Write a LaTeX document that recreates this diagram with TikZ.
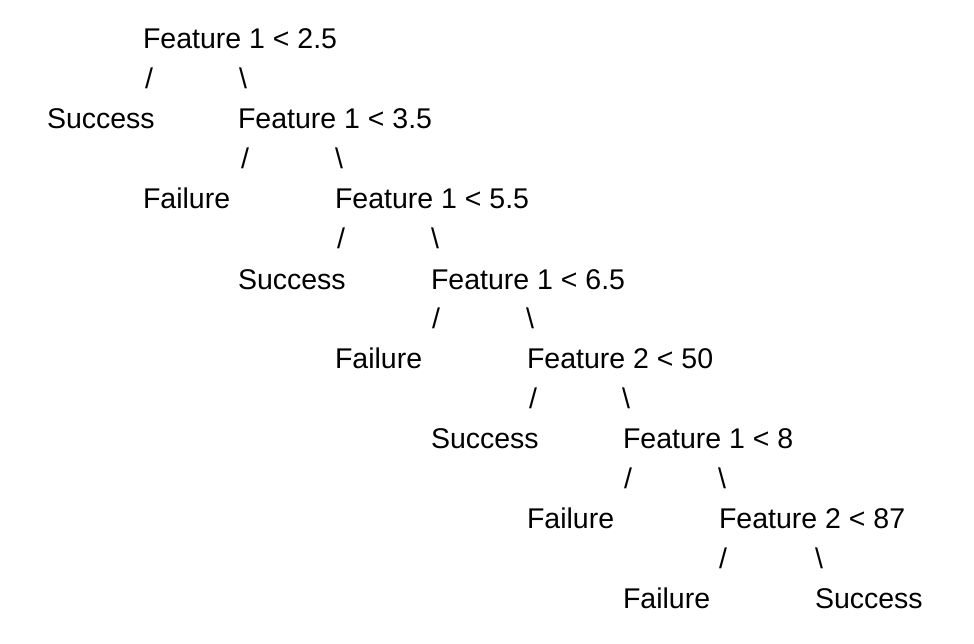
\documentclass[tikz,border=0pt]{standalone}
\usepackage{fontspec}
\setmainfont{Liberation Sans}
\begin{document}
\begin{tikzpicture}[x=1pt,y=-1pt,
  txt/.style={anchor=base west,inner sep=0pt,outer sep=0pt,font=\fontsize{28.5}{34}\selectfont}]
\useasboundingbox[fill=white] (0,0) rectangle (974,644);
% row 1
\node[txt] (r1) at (143,49) {Feature 1 < 2.5};
\node[txt] (s1a) at (145,89) {/};
\node[txt] (s1b) at (239,89) {\textbackslash};
% row 2
\node[txt] (l1) at (47,129) {Success};
\node[txt] (r2) at (238,129) {Feature 1 < 3.5};
\node[txt] (s2a) at (241,169) {/};
\node[txt] (s2b) at (335,169) {\textbackslash};
% row 3
\node[txt] (l2) at (143,209) {Failure};
\node[txt] (r3) at (335,209) {Feature 1 < 5.5};
\node[txt] (s3a) at (337,249) {/};
\node[txt] (s3b) at (431,249) {\textbackslash};
% row 4
\node[txt] (l3) at (238,289) {Success};
\node[txt] (r4) at (431,289) {Feature 1 < 6.5};
\node[txt] (s4a) at (432,328.5) {/};
\node[txt] (s4b) at (526,328.5) {\textbackslash};
% row 5
\node[txt] (l4) at (335,368.5) {Failure};
\node[txt] (r5) at (527,368.5) {Feature 2 < 50};
\node[txt] (s5a) at (529,408.5) {/};
\node[txt] (s5b) at (622,408.5) {\textbackslash};
% row 6
\node[txt] (l5) at (431,448.5) {Success};
\node[txt] (r6) at (623,448.5) {Feature 1 < 8};
\node[txt] (s6a) at (624,488) {/};
\node[txt] (s6b) at (718,488) {\textbackslash};
% row 7
\node[txt] (l6) at (527,528) {Failure};
\node[txt] (r7) at (719,528) {Feature 2 < 87};
\node[txt] (s7a) at (719,568) {/};
\node[txt] (s7b) at (815,568) {\textbackslash};
% row 8
\node[txt] (l7) at (623,608) {Failure};
\node[txt] (l8) at (815,608) {Success};
\end{tikzpicture}
\end{document}
